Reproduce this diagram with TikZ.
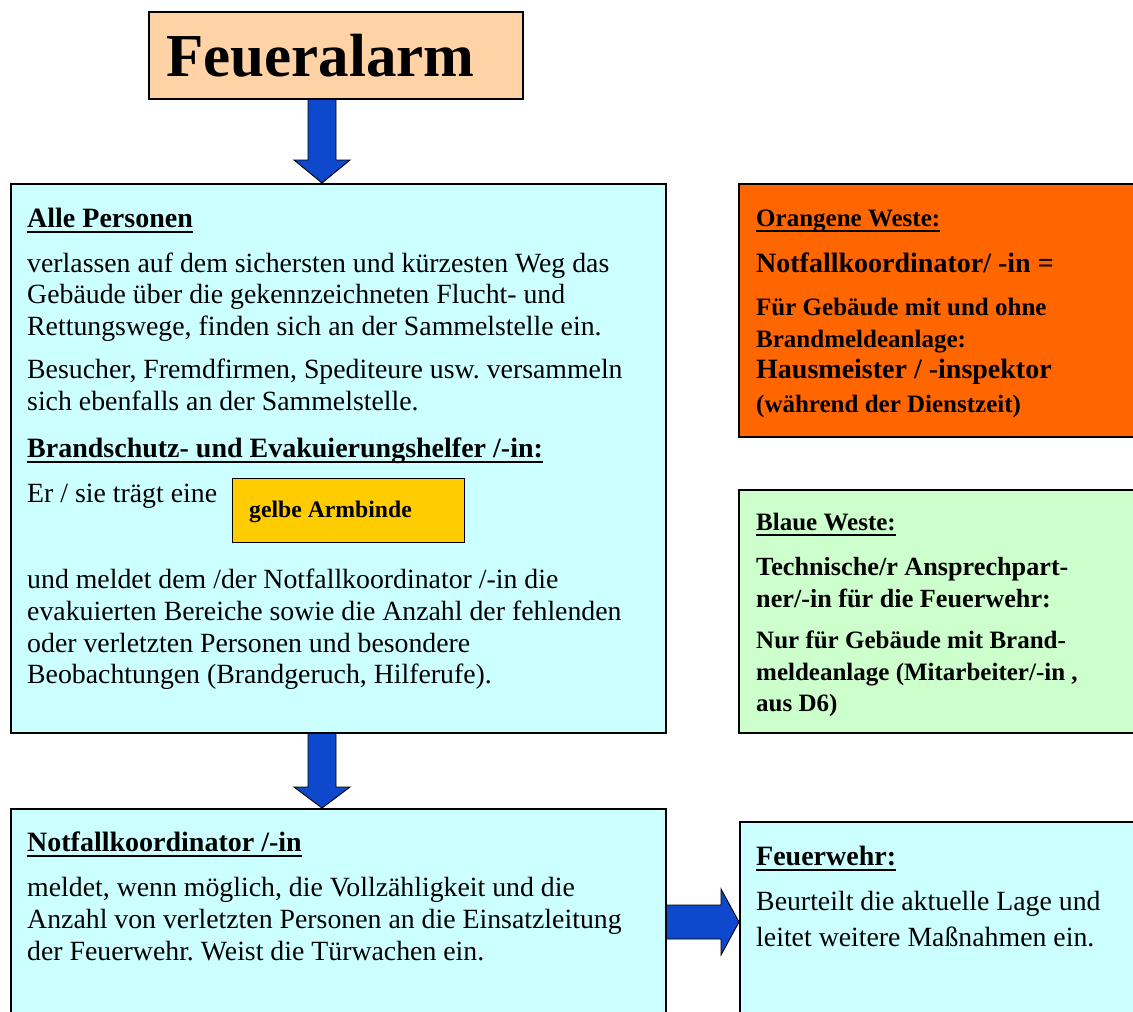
\documentclass[tikz,border=0pt]{standalone}
\usepackage{fontspec}
\setmainfont{Liberation Serif}
\usetikzlibrary{calc}
\definecolor{peach}{RGB}{255,211,165}
\definecolor{lcyan}{RGB}{204,255,255}
\definecolor{vorange}{RGB}{255,102,0}
\definecolor{lgreen}{RGB}{204,255,204}
\definecolor{vyellow}{RGB}{255,204,0}
\definecolor{ablue}{RGB}{14,72,204}
\frenchspacing
\begin{document}
\begin{tikzpicture}[x=1pt,y=-1pt,
  box/.style={draw=black,line width=1.5pt,anchor=north west,inner sep=0pt},
  txt/.style={anchor=base west,inner sep=0pt,font=\frenchspacing\fontsize{27.8}{31}\selectfont},
  hd/.style={anchor=base west,inner sep=0pt,font=\frenchspacing\fontsize{28}{31}\selectfont\bfseries},
  sb/.style={anchor=base west,inner sep=0pt,font=\frenchspacing\fontsize{25}{28}\selectfont\bfseries},
  lb/.style={anchor=base west,inner sep=0pt,font=\frenchspacing\fontsize{28}{31}\selectfont\bfseries},
  mb/.style={anchor=base west,inner sep=0pt,font=\frenchspacing\fontsize{26.2}{30}\selectfont\bfseries},
  ulin/.style={line width=2.6pt},
  barrow/.style={fill=ablue,draw=black,line width=0.9pt,line join=miter}]
\useasboundingbox (0,0) rectangle (1133,1012);
\clip (0,0) rectangle (1133,1012);

% boxes
\node[box,fill=peach,minimum width=374pt,minimum height=87pt] (alarm) at (148,11) {};
\node[box,fill=lcyan,minimum width=655pt,minimum height=549pt] (alle) at (10,183) {};
\node[box,fill=lcyan,minimum width=655pt,minimum height=260pt] (koord) at (10,808) {};
\node[box,fill=lcyan,minimum width=420pt,minimum height=260pt] (fw) at (739,821) {};
\node[box,fill=vorange,minimum width=420pt,minimum height=253pt] (orange) at (738,183) {};
\node[box,fill=lgreen,minimum width=420pt,minimum height=243pt] (green) at (738,489) {};
\node[box,fill=vyellow,line width=1.2pt,minimum width=232pt,minimum height=64pt] (gelb) at (232,478) {};

% title
\node[anchor=base west,inner sep=0pt,font=\fontsize{61}{63}\selectfont\bfseries] (ttl) at (166,76) {Feueralarm};

% arrows
\coordinate (a1s) at (alarm.south -| 322,0);
\coordinate (a1e) at (alle.north -| 322,0);
\draw[barrow] ($(a1s)+(-14,0)$) -- ($(a1s)+(14,0)$) -- ($(a1e)+(14,-23)$) -- ($(a1e)+(28,-23)$) -- (a1e) -- ($(a1e)+(-28,-23)$) -- ($(a1e)+(-14,-23)$) -- cycle;
\coordinate (a2s) at (alle.south -| 322,0);
\coordinate (a2e) at (koord.north -| 322,0);
\draw[barrow] ($(a2s)+(-14,0)$) -- ($(a2s)+(14,0)$) -- ($(a2e)+(14,-21)$) -- ($(a2e)+(28,-21)$) -- (a2e) -- ($(a2e)+(-28,-21)$) -- ($(a2e)+(-14,-21)$) -- cycle;
\coordinate (a3s) at (koord.east |- 0,922);
\coordinate (a3e) at (fw.west |- 0,922);
\draw[barrow] ($(a3s)+(0,-17)$) -- ($(a3e)+(-18,-17)$) -- ($(a3e)+(-18,-33)$) -- (a3e) -- ($(a3e)+(-18,33)$) -- ($(a3e)+(-18,17)$) -- ($(a3s)+(0,17)$) -- cycle;

% box 1 text
\node[hd] (b1h) at (27,227) {Alle Personen};
\draw[ulin] ($(b1h.base west)+(0,5)$) -- ($(b1h.base east)+(0,5)$);
\node[txt] (b1a) at (27,272) {verlassen auf dem sichersten und kürzesten Weg das};
\node[txt] (b1b) at (27,303) {Gebäude über die gekennzeichneten Flucht- und};
\node[txt] (b1c) at (27,335) {Rettungswege, finden sich an der Sammelstelle ein.};
\node[txt] (b1d) at (27,378) {Besucher, Fremdfirmen, Spediteure usw. versammeln};
\node[txt] (b1e) at (27,410) {sich ebenfalls an der Sammelstelle.};
\node[hd] (b1h2) at (27,457) {Brandschutz- und Evakuierungshelfer /-in:};
\draw[ulin] ($(b1h2.base west)+(0,5)$) -- ($(b1h2.base east)+(0,5)$);
\node[txt] (b1f) at (27,502) {Er / sie trägt eine};
\node[anchor=base west,inner sep=0pt,font=\fontsize{23.7}{26}\selectfont\bfseries] (gelbt) at (249,517) {gelbe Armbinde};
\node[txt] (b1g) at (27,588) {und meldet dem /der Notfallkoordinator /-in die};
\node[txt] (b1i) at (27,620) {evakuierten Bereiche sowie die Anzahl der fehlenden};
\node[txt] (b1j) at (27,652) {oder verletzten Personen und besondere};
\node[txt] (b1k) at (27,683) {Beobachtungen (Brandgeruch, Hilferufe).};

% box 2 text
\node[hd] (b2h) at (27,851) {Notfallkoordinator /-in};
\draw[ulin] ($(b2h.base west)+(0,5)$) -- ($(b2h.base east)+(0,5)$);
\node[txt] (b2a) at (27,896) {meldet, wenn möglich, die Vollzähligkeit und die};
\node[txt] (b2b) at (27,928) {Anzahl von verletzten Personen an die Einsatzleitung};
\node[txt] (b2c) at (27,960) {der Feuerwehr. Weist die Türwachen ein.};

% Feuerwehr text
\node[hd] (fwh) at (756,865) {Feuerwehr:};
\draw[ulin] ($(fwh.base west)+(0,5)$) -- ($(fwh.base east)+(0,5)$);
\node[txt] (fwa) at (756,910) {Beurteilt die aktuelle Lage und};
\node[txt] (fwb) at (756,946) {leitet weitere Maßnahmen ein.};

% orange text
\node[sb] (oh) at (756,226) {Orangene Weste:};
\draw[ulin] ($(oh.base west)+(0,5)$) -- ($(oh.base east)+(0,5)$);
\node[lb] (oa) at (756,272) {Notfallkoordinator/ -in =};
\node[sb] (ob) at (756,315) {Für Gebäude mit und ohne};
\node[sb] (oc) at (756,347) {Brandmeldeanlage:};
\node[lb] (od) at (756,378) {Hausmeister / -inspektor};
\node[sb] (oe) at (756,412) {(während der Dienstzeit)};

% green text
\node[sb] (gh) at (756,530) {Blaue Weste:};
\draw[ulin] ($(gh.base west)+(0,5)$) -- ($(gh.base east)+(0,5)$);
\node[mb] (ga) at (756,575) {Technische/r Ansprechpart-};
\node[mb] (gb) at (756,607) {ner/-in für die Feuerwehr:};
\node[sb] (gc) at (756,648) {Nur für Gebäude mit Brand-};
\node[sb] (gd) at (756,680) {meldeanlage (Mitarbeiter/-in ,};
\node[sb] (ge) at (756,711) {aus D6)};
\end{tikzpicture}
\end{document}
